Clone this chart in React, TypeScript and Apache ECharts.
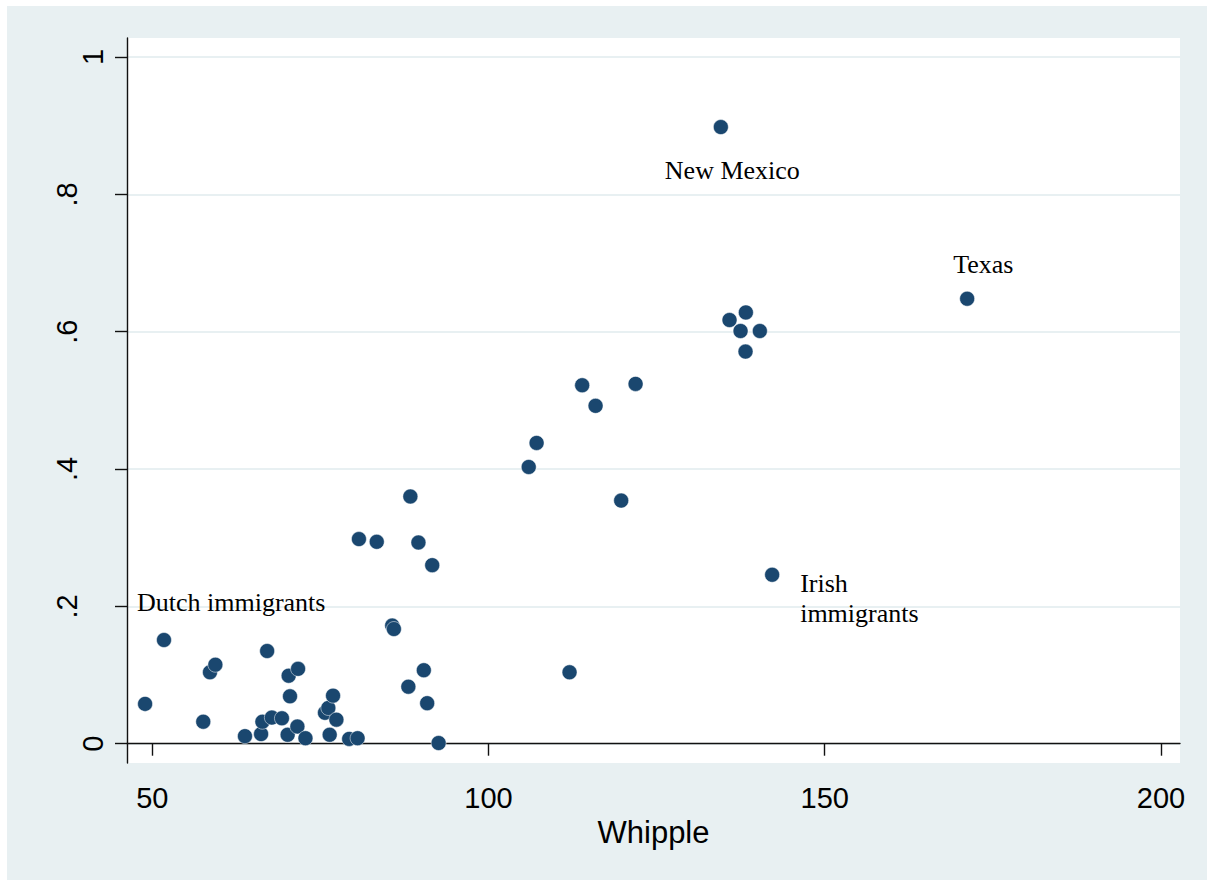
import React, { useEffect, useRef } from "react";
import * as echarts from "echarts";

// Whipple index (x) and share of people (y) for each group
const whipple = [
  48.93, 51.74, 57.58, 58.58, 59.38, 63.78, 66.18, 66.38, 67.08, 67.78,
  69.28, 70.13, 70.28, 70.48, 71.58, 71.68, 72.78, 75.68, 76.18, 76.38,
  76.88, 77.38, 79.28, 80.53, 80.73, 83.38, 85.68, 85.93, 88.08, 88.38,
  89.58, 90.38, 90.88, 91.63, 92.58, 105.98, 107.15, 112.05, 113.93, 115.92,
  119.73, 121.87, 134.55, 135.84, 137.48, 138.22, 138.27, 140.35, 142.18, 171.18,
];
const share = [
  0.058, 0.151, 0.032, 0.104, 0.115, 0.011, 0.014, 0.032, 0.135, 0.038,
  0.037, 0.013, 0.099, 0.069, 0.025, 0.109, 0.008, 0.045, 0.052, 0.013,
  0.07, 0.035, 0.007, 0.008, 0.298, 0.294, 0.172, 0.167, 0.083, 0.36,
  0.293, 0.107, 0.059, 0.26, 0.001, 0.403, 0.438, 0.104, 0.522, 0.492,
  0.354, 0.524, 0.898, 0.617, 0.601, 0.571, 0.628, 0.601, 0.246, 0.648,
];
// Marker labels (index into the arrays above)
const labelIndex = [1, 42, 49, 48];
const labelText = ["Dutch immigrants", "New Mexico", "Texas", "Irish\nimmigrants"];

const xTicks = [50, 100, 150, 200];
const yTicks = [0, 0.2, 0.4, 0.6, 0.8, 1];
const yTickLabels = ["0", ".2", ".4", ".6", ".8", "1"];
const xTitle = "Whipple";

// label offsets (style only)
const labelOffsets: number[][] = [
  [-27, -38],
  [-56, 43],
  [-14, -34],
  [28, 24],
];

const BG = "#e8f0f2";
const NAVY = "#1a476f";
const SANS = "'Liberation Sans', Arial, sans-serif";
const SERIF = "'Liberation Serif', 'Times New Roman', serif";

export default function App() {
  const ref = useRef<HTMLDivElement>(null);
  useEffect(() => {
    if (!ref.current) return;
    const chart = echarts.init(ref.current, undefined, { renderer: "svg" });
    const data = whipple.map((x, i) => {
      const li = labelIndex.indexOf(i);
      const item: any = { value: [x, share[i]] };
      if (li >= 0) {
        item.label = {
          show: true,
          formatter: labelText[li],
          position: "inside",
          align: "left",
          verticalAlign: "middle",
          offset: labelOffsets[li],
          color: "#000",
          opacity: 1,
          fontFamily: SERIF,
          fontSize: 26,
          lineHeight: 30,
        };
      }
      return item;
    });
    chart.setOption({
      animation: false,
      backgroundColor: BG,
      grid: {
        left: 120,
        top: 32,
        right: 27,
        bottom: 117,
        show: true,
        backgroundColor: "#ffffff",
        borderWidth: 0,
      },
      xAxis: {
        type: "value",
        min: 46.24,
        max: 202.83,
        name: xTitle,
        nameLocation: "middle",
        nameGap: 50,
        nameTextStyle: { fontFamily: SANS, fontSize: 31, color: "#000" },
        axisLine: { show: true, lineStyle: { color: "#111", width: 1.4 } },
        axisTick: { show: true, length: 12, customValues: xTicks, lineStyle: { color: "#111", width: 1.4 } },
        axisLabel: {
          customValues: xTicks,
          margin: 20,
          fontFamily: SANS,
          fontSize: 29,
          color: "#000",
        },
        splitLine: { show: false },
      },
      yAxis: {
        type: "value",
        min: -0.0281,
        max: 1.0277,
        axisLine: { show: true, lineStyle: { color: "#111", width: 1.4 } },
        axisTick: { show: true, length: 12, customValues: yTicks, lineStyle: { color: "#111", width: 1.4 } },
        axisLabel: {
          customValues: yTicks,
          rotate: 90,
          margin: 20,
          formatter: (v: number) => {
            const i = yTicks.findIndex((t) => Math.abs(t - v) < 1e-6);
            const s = i >= 0 ? yTickLabels[i] : String(v);
            return i === 0 || i === yTicks.length - 1 ? `{e|${s}}` : `{m|${s}}`;
          },
          rich: {
            e: { fontFamily: SANS, fontSize: 29, color: "#000" },
            m: { fontFamily: SANS, fontSize: 29, color: "#000", padding: [0, 0, 26, 0] },
          },
        },
        splitLine: { show: true, lineStyle: { color: BG, width: 2 } },
      },
      series: [
        {
          type: "scatter",
          symbol: "circle",
          symbolSize: 15,
          itemStyle: { color: NAVY, opacity: 1, borderColor: "#ffffff", borderWidth: 0.5 },
          data,
        },
      ],
    });
    return () => chart.dispose();
  }, []);
  return (
    <div
      ref={ref}
      style={{ position: "absolute", left: 7, top: 6, width: 1200, height: 874 }}
    />
  );
}
